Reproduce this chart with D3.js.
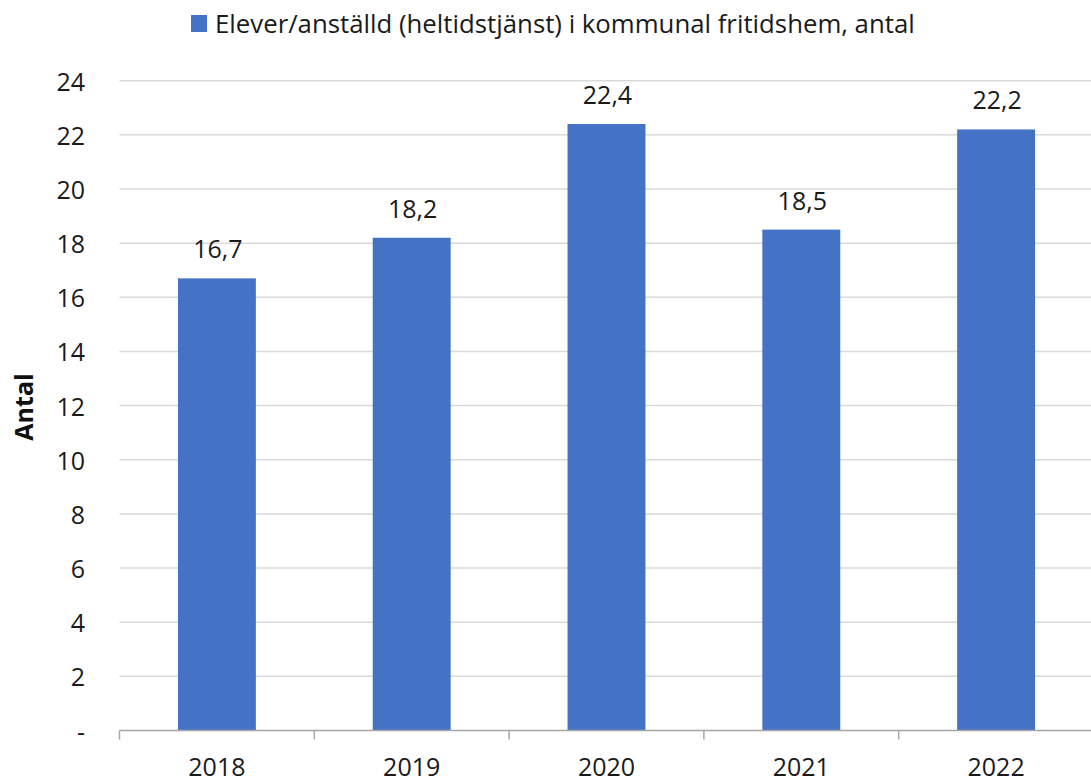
<!DOCTYPE html>
<html>
<head>
<meta charset="utf-8">
<script src="https://d3js.org/d3.v7.min.js"></script>
<style>
  body { margin: 0; background: #fff; }
  svg { display: block; font-family: "Open Sans", sans-serif; }
</style>
</head>
<body>
<div id="chart"></div>
<script>
const years = ["2018", "2019", "2020", "2021", "2022"];
const values = [16.7, 18.2, 22.4, 18.5, 22.2];
const yTicks = [0, 2, 4, 6, 8, 10, 12, 14, 16, 18, 20, 22, 24];
const seriesName = "Elever/anställd (heltidstjänst) i kommunal fritidshem, antal";
const yTitle = "Antal";

const width = 1091, height = 782;
const barColor = "#4472C4";
const textColor = "#1a1a1a";

const svg = d3.select("#chart").append("svg")
  .attr("width", width).attr("height", height);

const x = d3.scaleBand().domain(years).range([119.5, 1093.5])
  .paddingInner(0.6).paddingOuter(0.3);
const y = d3.scaleLinear().domain([0, 24]).range([730.5, 80.7]);

// gridlines
svg.append("g").selectAll("line")
  .data(yTicks.filter(d => d > 0))
  .join("line")
  .attr("x1", 119.5).attr("x2", width)
  .attr("y1", d => y(d)).attr("y2", d => y(d))
  .attr("stroke", "#d9d9d9").attr("stroke-width", 1.5);

// y labels
svg.append("g").selectAll("text")
  .data(yTicks)
  .join("text")
  .attr("x", 85).attr("y", d => y(d))
  .attr("text-anchor", "end").attr("dominant-baseline", "central")
  .attr("font-size", 25).attr("fill", textColor)
  .text(d => d === 0 ? "-" : d);

// bars
svg.append("g").selectAll("rect")
  .data(values)
  .join("rect")
  .attr("x", (d, i) => x(years[i]))
  .attr("width", x.bandwidth())
  .attr("y", d => y(d))
  .attr("height", d => y(0) - y(d))
  .attr("fill", barColor);

// data labels
svg.append("g").selectAll("text")
  .data(values)
  .join("text")
  .attr("x", (d, i) => x(years[i]) + x.bandwidth() / 2 + 1)
  .attr("y", d => y(d) - 20)
  .attr("text-anchor", "middle")
  .attr("font-size", 25).attr("fill", textColor)
  .text(d => d3.format(".1f")(d).replace(".", ","));

// x axis line + ticks
const step = x.step();
const axis = svg.append("g").attr("stroke", "#a6a6a6").attr("stroke-width", 1.5);
axis.append("line").attr("x1", 119.5).attr("x2", width)
  .attr("y1", y(0)).attr("y2", y(0));
axis.selectAll("line.tick")
  .data(years)
  .join("line").attr("class", "tick")
  .attr("x1", d => x(d) - x.paddingOuter() * step)
  .attr("x2", d => x(d) - x.paddingOuter() * step)
  .attr("y1", y(0)).attr("y2", y(0) + 9);

// x labels
svg.append("g").selectAll("text")
  .data(years)
  .join("text")
  .attr("x", d => x(d) + x.bandwidth() / 2)
  .attr("y", 776)
  .attr("text-anchor", "middle")
  .attr("font-size", 25).attr("fill", textColor)
  .text(d => d);

// y title
svg.append("text")
  .attr("transform", "translate(33,407) rotate(-90)")
  .attr("text-anchor", "middle")
  .attr("font-size", 25).attr("font-weight", "bold").attr("fill", "#111")
  .text(yTitle);

// legend
const legend = svg.append("g");
legend.append("rect")
  .attr("x", 191).attr("y", 15).attr("width", 16).attr("height", 17)
  .attr("fill", barColor);
const lt = legend.append("text")
  .attr("x", 215).attr("y", 33)
  .attr("font-size", 25).attr("fill", textColor)
  .text(seriesName);
const w = lt.node().getComputedTextLength();
lt.attr("font-size", 25 * 700 / w);
</script>
</body>
</html>
